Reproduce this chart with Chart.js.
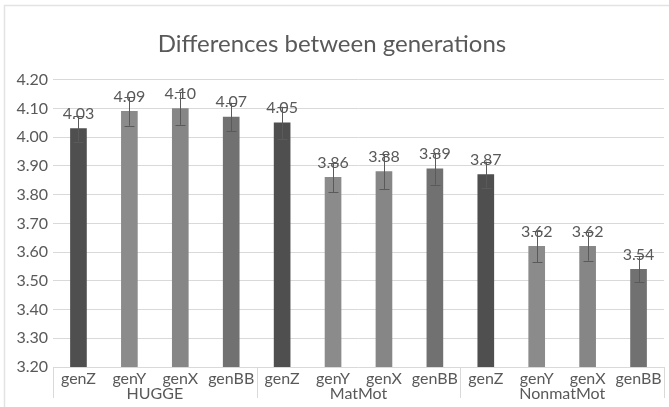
<!DOCTYPE html>
<html>
<head>
<meta charset="utf-8">
<script src="https://cdn.jsdelivr.net/npm/chart.js@4/dist/chart.umd.min.js"></script>
<style>
  html, body { margin: 0; padding: 0; background: #fff; }
  #wrap { width: 669px; height: 407px; position: relative; }
</style>
</head>
<body>
<div id="wrap"><canvas id="chart" width="669" height="407"></canvas></div>
<script>
// Chart data
const groups = ['HUGGE', 'MatMot', 'NonmatMot'];
const generations = ['genZ', 'genY', 'genX', 'genBB'];
const meanValues = [4.03, 4.09, 4.10, 4.07, 4.05, 3.86, 3.88, 3.89, 3.87, 3.62, 3.62, 3.54];
const valueLabels = ['4.03', '4.09', '4.10', '4.07', '4.05', '3.86', '3.88', '3.89', '3.87', '3.62', '3.62', '3.54'];
const errorValues = [0.045, 0.05, 0.057, 0.05, 0.056, 0.052, 0.06, 0.055, 0.045, 0.055, 0.05, 0.045];
const yTicks = [3.20, 3.30, 3.40, 3.50, 3.60, 3.70, 3.80, 3.90, 4.00, 4.10, 4.20];

const genColors = { genZ: '#4f4f4f', genY: '#8b8b8b', genX: '#868686', genBB: '#717171' };
const textColor = '#595959';
const FONT = 'Lato, "Open Sans", sans-serif';

const labels = [];
groups.forEach(() => generations.forEach(g => labels.push(g)));

// Error bars, value labels, group labels and separators
const overlayPlugin = {
  id: 'overlay',
  beforeDraw(chart) {
    const ctx = chart.ctx;
    ctx.save();
    ctx.fillStyle = '#ffffff';
    ctx.fillRect(0, 0, chart.width, chart.height);
    ctx.strokeStyle = '#e3e3e3';
    ctx.lineWidth = 1.5;
    ctx.strokeRect(4.5, 5.5, 800, 600);
    ctx.restore();
  },
  afterDatasetsDraw(chart) {
    const ctx = chart.ctx;
    const x = chart.scales.x;
    const y = chart.scales.y;
    const meta = chart.getDatasetMeta(0);
    ctx.save();

    // value labels
    ctx.font = '16px ' + FONT;
    ctx.fillStyle = textColor;
    ctx.textAlign = 'center';
    ctx.textBaseline = 'middle';
    meta.data.forEach((bar, i) => {
      ctx.fillText(valueLabels[i], bar.x, bar.y - 15);
    });

    // error bars
    ctx.strokeStyle = '#5a5a5a';
    ctx.lineWidth = 1;
    meta.data.forEach((bar, i) => {
      const top = y.getPixelForValue(meanValues[i] + errorValues[i]);
      const bot = y.getPixelForValue(meanValues[i] - errorValues[i]);
      const cx = Math.round(bar.x) + 0.5;
      ctx.beginPath();
      ctx.moveTo(cx, top);
      ctx.lineTo(cx, bot);
      ctx.moveTo(cx - 5, Math.round(top) + 0.5);
      ctx.lineTo(cx + 5, Math.round(top) + 0.5);
      ctx.moveTo(cx - 5, Math.round(bot) + 0.5);
      ctx.lineTo(cx + 5, Math.round(bot) + 0.5);
      ctx.stroke();
    });

    // group separators and group labels
    const step = (x.right - x.left) / labels.length;
    ctx.strokeStyle = '#d9d9d9';
    for (let g = 0; g <= groups.length; g++) {
      const sx = Math.round(x.left + g * generations.length * step) + 0.5;
      ctx.beginPath();
      ctx.moveTo(sx, y.bottom);
      ctx.lineTo(sx, y.bottom + 31);
      ctx.stroke();
    }
    ctx.font = '16px ' + FONT;
    ctx.fillStyle = textColor;
    groups.forEach((name, g) => {
      const cx = x.left + (g * generations.length + generations.length / 2) * step;
      ctx.fillText(name, cx, y.bottom + 27);
    });
    ctx.restore();
  }
};

const ctx = document.getElementById('chart');
new Chart(ctx, {
  type: 'bar',
  data: {
    labels: labels,
    datasets: [{
      data: meanValues,
      backgroundColor: labels.map(l => genColors[l]),
      barThickness: 16
    }]
  },
  options: {
    responsive: false,
    animation: false,
    layout: { padding: { left: 0, right: 5, top: 0, bottom: 0 } },
    plugins: {
      legend: { display: false },
      tooltip: { enabled: false },
      title: {
        display: true,
        text: 'Differences between generations',
        color: textColor,
        font: { family: FONT, size: 24, weight: 'normal' },
        padding: { top: 30, bottom: 21 }
      }
    },
    scales: {
      x: {
        grid: { display: false, drawTicks: false, tickLength: 0 },
        border: { display: false },
        ticks: {
          color: textColor,
          font: { family: FONT, size: 16 },
          padding: 2,
          maxRotation: 0,
          autoSkip: false
        },
        afterFit(scale) { scale.height = 40; }
      },
      y: {
        min: 3.2,
        max: 4.2,
        afterBuildTicks(scale) { scale.ticks = yTicks.map(v => ({ value: v })); },
        grid: { color: '#d9d9d9', drawTicks: false },
        border: { display: false },
        ticks: {
          color: textColor,
          font: { family: FONT, size: 16 },
          padding: 5,
          callback: v => Number(v).toFixed(2)
        },
        afterFit(scale) { scale.width = 53; }
      }
    }
  },
  plugins: [overlayPlugin]
});
</script>
</body>
</html>
